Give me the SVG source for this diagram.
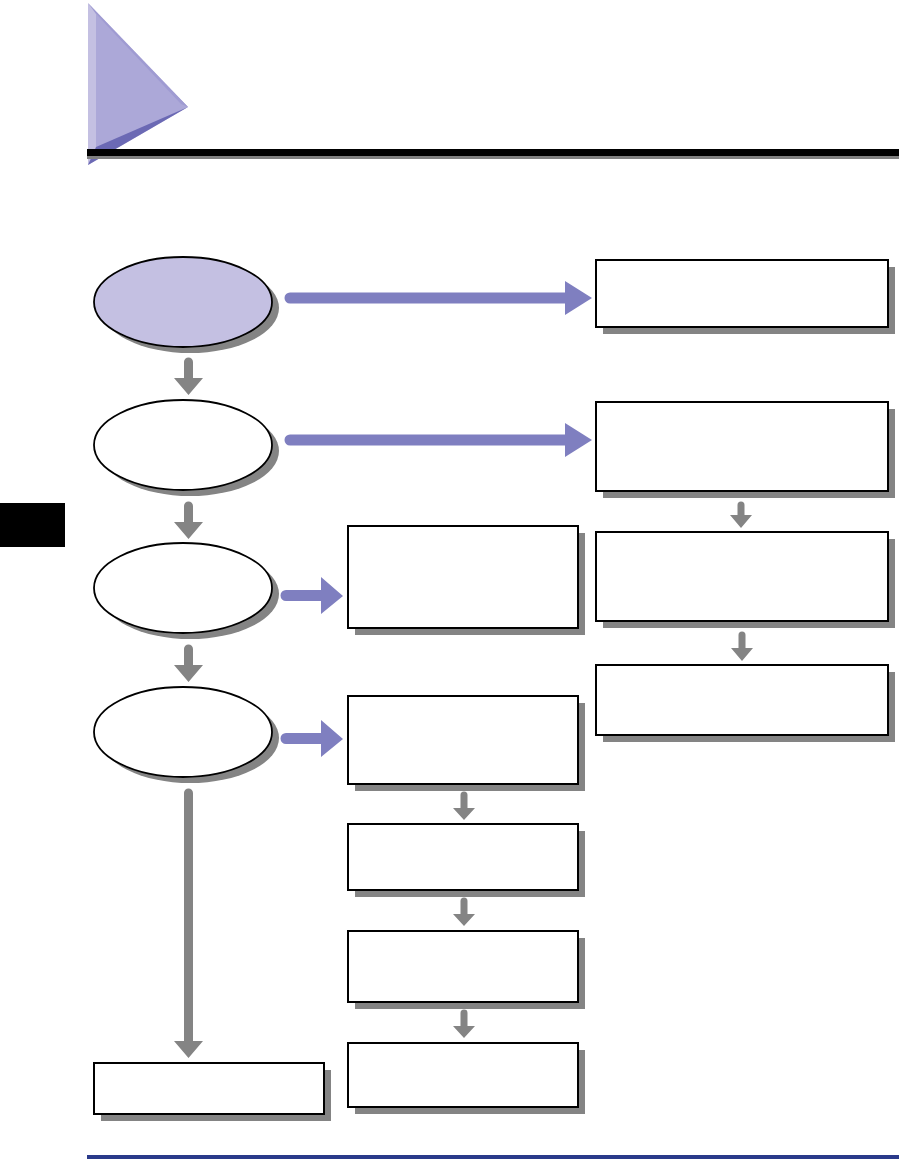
<svg xmlns="http://www.w3.org/2000/svg" width="899" height="1159" viewBox="0 0 899 1159">
<style>
.box{fill:#fff;stroke:#000;stroke-width:2}
.sh{fill:#848484}
.ell{stroke:#000;stroke-width:1.8}
.g{fill:#848484}
.p{fill:#7f7fc0}
</style>
<rect width="899" height="1159" fill="#fff"/>
<g id="header">
<polygon points="88,3 188,107 88,165" fill="#c4c0e2"/>
<polygon points="96,14 188,107 96,150" fill="#aca8d8"/>
<polygon points="88,3 96,14 181,104 188,107" fill="#9f9bd2"/>
<polygon points="188,107 96,147 88,165" fill="#6b69b4"/>
<rect x="87" y="149" width="812" height="7" fill="#000"/>
<rect x="87" y="156" width="812" height="3" fill="#808080"/>
<rect x="0" y="503" width="65" height="44" fill="#000"/>
<rect x="87" y="1155" width="812" height="4" fill="#2a3a8a"/>
</g>
<g id="connectors">
<path class="p" d="M290,292.5 H565 V281 L592,298 L565,315 V303.5 H290 A5.5,5.5 0 0 1 290,292.5 Z"/>
<path class="p" d="M290,434.5 H565 V423 L592,440 L565,457 V445.5 H290 A5.5,5.5 0 0 1 290,434.5 Z"/>
<path class="p" d="M286,590 H321 V577 L343,596 L321,614 V601 H286 A5.5,5.5 0 0 1 286,590 Z"/>
<path class="p" d="M286,733 H321 V720 L343,739 L321,757 V744 H286 A5.5,5.5 0 0 1 286,733 Z"/>
<path class="g" d="M184,362 A4.5,4.5 0 0 1 193,362 V378 H203 L188.5,395 L174,378 H184 Z"/>
<path class="g" d="M184,506 A4.5,4.5 0 0 1 193,506 V522 H203 L188.5,539 L174,522 H184 Z"/>
<path class="g" d="M184,649 A4.5,4.5 0 0 1 193,649 V665 H203 L188.5,682 L174,665 H184 Z"/>
<path class="g" d="M184,793 A4.5,4.5 0 0 1 193,793 V1041 H203 L188.5,1058 L174,1041 H184 Z"/>
<path class="g" d="M737.5,505 A3.5,3.5 0 0 1 744.5,505 V515 H752 L741,528 L730,515 H737.5 Z"/>
<path class="g" d="M738.5,635 A3.5,3.5 0 0 1 745.5,635 V648 H753 L742,661 L731,648 H738.5 Z"/>
<path class="g" d="M460.5,795 A3.5,3.5 0 0 1 467.5,795 V808 H475 L464,820 L453,808 H460.5 Z"/>
<path class="g" d="M460.5,901 A3.5,3.5 0 0 1 467.5,901 V914 H475 L464,926 L453,914 H460.5 Z"/>
<path class="g" d="M460.5,1013 A3.5,3.5 0 0 1 467.5,1013 V1026 H475 L464,1038 L453,1026 H460.5 Z"/>
</g>
<g id="e1"><ellipse class="sh" cx="190" cy="308" rx="89" ry="45"/><ellipse class="ell" cx="183" cy="302" rx="89" ry="45" fill="#c4c0e2"/></g>
<g id="e2"><ellipse class="sh" cx="190" cy="451" rx="89" ry="45"/><ellipse class="ell" cx="183" cy="445" rx="89" ry="45" fill="#fff"/></g>
<g id="e3"><ellipse class="sh" cx="190" cy="594" rx="89" ry="45"/><ellipse class="ell" cx="183" cy="588" rx="89" ry="45" fill="#fff"/></g>
<g id="e4"><ellipse class="sh" cx="190" cy="738" rx="89" ry="45"/><ellipse class="ell" cx="183" cy="732" rx="89" ry="45" fill="#fff"/></g>
<g id="r1"><rect class="sh" x="603" y="267" width="292" height="67"/><rect class="box" x="596" y="260" width="292" height="67"/></g>
<g id="r2"><rect class="sh" x="603" y="409" width="292" height="89"/><rect class="box" x="596" y="402" width="292" height="89"/></g>
<g id="r3"><rect class="sh" x="603" y="539" width="292" height="89"/><rect class="box" x="596" y="532" width="292" height="89"/></g>
<g id="r4"><rect class="sh" x="603" y="672" width="292" height="70"/><rect class="box" x="596" y="665" width="292" height="70"/></g>
<g id="m1"><rect class="sh" x="355" y="533" width="230" height="102"/><rect class="box" x="348" y="526" width="230" height="102"/></g>
<g id="m2"><rect class="sh" x="355" y="703" width="230" height="88"/><rect class="box" x="348" y="696" width="230" height="88"/></g>
<g id="m3"><rect class="sh" x="355" y="831" width="230" height="66"/><rect class="box" x="348" y="824" width="230" height="66"/></g>
<g id="m4"><rect class="sh" x="355" y="938" width="230" height="71"/><rect class="box" x="348" y="931" width="230" height="71"/></g>
<g id="m5"><rect class="sh" x="355" y="1050" width="230" height="64"/><rect class="box" x="348" y="1043" width="230" height="64"/></g>
<g id="b1"><rect class="sh" x="101" y="1070" width="230" height="51"/><rect class="box" x="94" y="1063" width="230" height="51"/></g>
</svg>
